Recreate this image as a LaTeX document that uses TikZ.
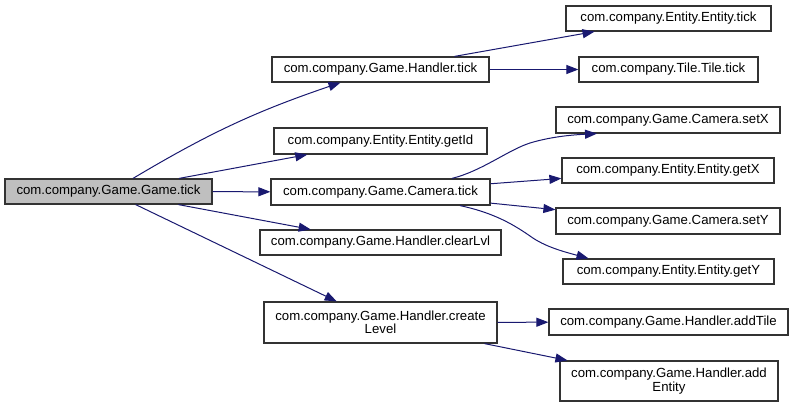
\documentclass[tikz,border=0pt]{standalone}
\usepackage{fontspec}
\setmainfont{Liberation Sans}
\usetikzlibrary{arrows.meta,calc}
\definecolor{edgeblue}{HTML}{191970}
\definecolor{boxgray}{HTML}{BFBFBF}
\definecolor{boxline}{HTML}{333333}
\begin{document}
\begin{tikzpicture}[x=1pt,y=-1pt,
  box/.style={draw=boxline, line width=1.2pt, fill=white, inner sep=0pt, align=center,
    font=\fontsize{13.2pt}{13.5pt}\selectfont},
  edge/.style={draw=edgeblue, line width=1pt, -{Triangle[length=12pt,width=9pt]}}]
\useasboundingbox (0,0) rectangle (793,407);
\node[box, fill=boxgray, minimum width=207pt, minimum height=25pt] (gt) at (108.5,191.5) {com.company.Game.Game.tick};
\node[box, minimum width=217pt, minimum height=25pt] (ht) at (380.5,69.5) {com.company.Game.Handler.tick};
\node[box, minimum width=213pt, minimum height=26pt] (gid) at (380.5,141) {com.company.Entity.Entity.getId};
\node[box, minimum width=219pt, minimum height=26pt] (ct) at (380.5,192) {com.company.Game.Camera.tick};
\node[box, minimum width=241pt, minimum height=25pt] (cl) at (380.5,242.5) {com.company.Game.Handler.clearLvl};
\node[box, minimum width=233pt, minimum height=41pt] (lv) at (380.5,322.5) {com.company.Game.Handler.create\\Level};
\node[box, minimum width=205pt, minimum height=25pt] (et) at (668.5,18.5) {com.company.Entity.Entity.tick};
\node[box, minimum width=179pt, minimum height=25pt] (tt) at (668.5,69.5) {com.company.Tile.Tile.tick};
\node[box, minimum width=224pt, minimum height=26pt] (sx) at (668,120) {com.company.Game.Camera.setX};
\node[box, minimum width=212pt, minimum height=25pt] (gx) at (668,170.5) {com.company.Entity.Entity.getX};
\node[box, minimum width=224pt, minimum height=26pt] (sy) at (668,221) {com.company.Game.Camera.setY};
\node[box, minimum width=211pt, minimum height=25pt] (gy) at (668.5,271.5) {com.company.Entity.Entity.getY};
\node[box, minimum width=239pt, minimum height=26pt] (at) at (668.5,322) {com.company.Game.Handler.addTile};
\node[box, minimum width=218pt, minimum height=40pt] (ae) at (669,381) {com.company.Game.Handler.add\\Entity};
% edges
\draw[edge] ($(gt.north)+(24.5,0)$) to[bend left=6] ($(ht.south)+(-40,0)$);
\draw[edge] (gt) -- (gid);
\draw[edge] (gt) -- (ct);
\draw[edge] (gt) -- (cl);
\draw[edge] (gt) -- (lv);
\draw[edge] (ht) -- (et);
\draw[edge] (ht) -- (tt);
\draw[edge] ($(ct.north)+(71.5,0)$) .. controls (482,171) and (508,150) .. (530,143) .. controls (550,137) and (570,135) .. ($(sx.south)+(-71,0)$);
\draw[edge] (ct) -- (gx);
\draw[edge] (ct) -- (sy);
\draw[edge] ($(ct.south)+(79.5,0)$) .. controls (490,212) and (510,222) .. (530,236) .. controls (545,247) and (565,252) .. ($(gy.north)+(-80,0)$);
\draw[edge] (lv) -- (at);
\draw[edge] (lv) -- (ae);
\end{tikzpicture}
\end{document}
